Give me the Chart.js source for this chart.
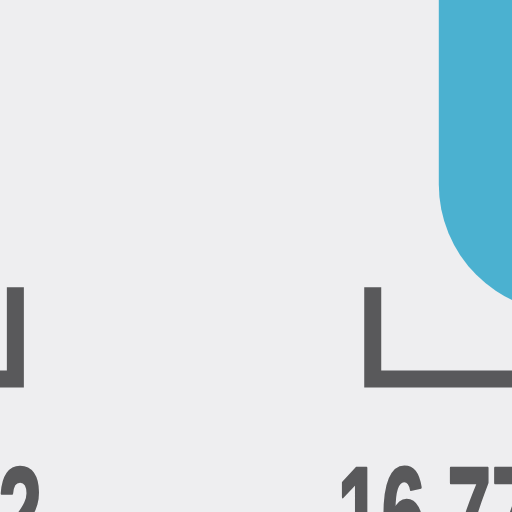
<!DOCTYPE html>
<html>
<head>
<meta charset="utf-8">
<script src="https://cdn.jsdelivr.net/npm/chart.js@4/dist/chart.umd.min.js"></script>
<style>
  html, body { margin: 0; padding: 0; background: #eeeef0; overflow: hidden; }
  #chart { display: block; }
</style>
</head>
<body>
<canvas id="chart" width="512" height="512"></canvas>
<script>
// values (x and y run 0..100 across the visible view)
const barX = [115];
const barBottom = [39];
const barTop = [250];
const bracketSpans = [[-40, 3], [72.8, 140]];
const bracketTop = [43.9, 43.9];
const bracketBase = [26, 26];
const bracketLabels = ["2", "16.77"];

const BLUE = "#4bb1d0";
const GREY = "#59595b";

const bracketDatasets = bracketSpans.map(([a, b], i) => ({
  type: "line",
  data: [
    { x: a, y: bracketTop[i] },
    { x: a, y: bracketBase[i] },
    { x: b, y: bracketBase[i] },
    { x: b, y: bracketTop[i] },
  ],
  borderColor: GREY,
  borderWidth: 17,
  borderJoinStyle: "miter",
  borderCapStyle: "butt",
  pointRadius: 0,
  tension: 0,
  fill: false,
}));

// big condensed figures under the brackets
const labelPlugin = {
  id: "bracketLabels",
  afterDatasetsDraw(chart) {
    const { ctx, scales } = chart;
    ctx.save();
    ctx.fillStyle = GREY;
    ctx.strokeStyle = GREY;
    ctx.lineWidth = 2.5;
    ctx.lineJoin = "round";
    ctx.font = 'bold 132px "Liberation Sans", Arial, sans-serif';
    ctx.textBaseline = "alphabetic";
    bracketLabels.forEach((text, i) => {
      const [a, b] = bracketSpans[i];
      const y = scales.y.getPixelForValue(bracketBase[i]) + 180;
      // first label hangs off the right end, second starts before the left end
      const x = i === 0 ? scales.x.getPixelForValue(b) + 27 : scales.x.getPixelForValue(a) - 35.5;
      ctx.save();
      ctx.translate(x, y);
      ctx.scale(0.6, 1);
      ctx.textAlign = i === 0 ? "right" : "left";
      ctx.fillText(text, 0, 0);
      ctx.strokeText(text, 0, 0);
      ctx.restore();
    });
    ctx.restore();
  },
};

new Chart(document.getElementById("chart"), {
  type: "bar",
  data: {
    datasets: [
      {
        data: barX.map((x, i) => ({ x: x, y: [barBottom[i], barTop[i]] })),
        backgroundColor: BLUE,
        borderWidth: 0,
        borderSkipped: false,
        borderRadius: 128,
        barThickness: 300,
        inflateAmount: 0,
      },
      ...bracketDatasets,
    ],
  },
  options: {
    responsive: false,
    animation: false,
    layout: { padding: 0 },
    plugins: { legend: { display: false }, tooltip: { enabled: false } },
    scales: {
      x: { type: "linear", min: 0, max: 100, offset: false, display: false },
      y: { type: "linear", min: 0, max: 100, display: false },
    },
  },
  plugins: [labelPlugin],
});
</script>
</body>
</html>
